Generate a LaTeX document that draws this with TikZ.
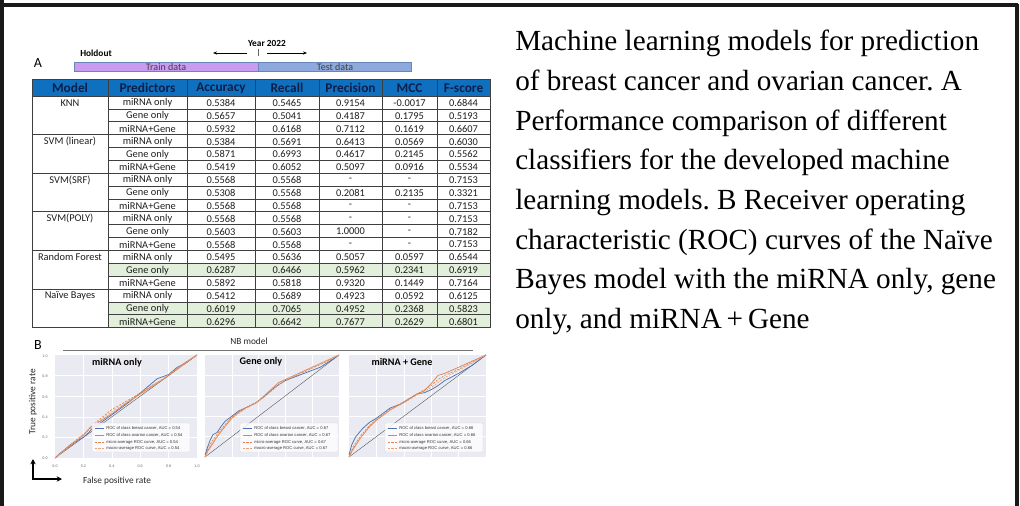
\documentclass[tikz,border=0pt]{standalone}
\usepackage{fontspec}
\setmainfont{Liberation Serif}
\newfontfamily\calib{Carlito}
\newfontfamily\arialf{Liberation Sans}
\usetikzlibrary{arrows.meta}
\frenchspacing
\definecolor{hdrblue}{HTML}{1070C0}
\definecolor{hdrtext}{HTML}{0C1F4A}
\definecolor{rowgreen}{HTML}{E2EFDA}
\definecolor{trainpurple}{HTML}{C99CF2}
\definecolor{testblue}{HTML}{8EA9DB}
\definecolor{barborder}{HTML}{6A86B8}
\definecolor{gridgray}{HTML}{3F3F3F}
\definecolor{rocbg}{HTML}{EAEAF2}
\definecolor{rocblue}{HTML}{4C72B0}
\definecolor{rocorange}{HTML}{DD8452}
\definecolor{rocpeach}{HTML}{E9A27C}
\definecolor{celltext}{HTML}{1E1E1E}
\tikzset{
  frameline/.style={line width=2.3pt, draw=black!90},
  capline/.style={anchor=base west, inner sep=0pt, font=\fontsize{21.9}{29}\selectfont},
  thead/.style={font=\calib\bfseries\fontsize{10}{11}\selectfont, text=hdrtext, inner sep=0pt},
  tcell/.style={font=\calib\fontsize{7.8}{8.5}\selectfont, text=celltext, inner sep=0pt},
  tline/.style={draw=gridgray, line width=0.5pt},
  smalllab/.style={font=\calib\fontsize{7}{8}\selectfont, text=black!85, inner sep=0pt},
  boldlab/.style={font=\calib\bfseries\fontsize{7}{8}\selectfont, inner sep=0pt},
  panellab/.style={font=\calib\fontsize{10.5}{12}\selectfont, inner sep=0pt},
  bartext/.style={font=\calib\fontsize{7.5}{8}\selectfont, text=black!75, inner sep=0pt},
  ticklab/.style={font=\arialf\fontsize{2.8}{3}\selectfont, text=black!60, inner sep=0pt},
  legtext/.style={font=\arialf\fontsize{3.1}{3.2}\selectfont, text=black!80, inner sep=0pt, anchor=west},
  plottitle/.style={font=\calib\bfseries\fontsize{7.6}{8}\selectfont, inner sep=0pt},
  rocsolid/.style={line width=0.55pt},
  rocdash/.style={line width=0.45pt, dash pattern=on 1.6pt off 1pt},
  gridw/.style={draw=white, line width=0.45pt},
  diagline/.style={draw=black!65, line width=0.3pt},
  legbox/.style={fill=white, fill opacity=0.8, draw=black!15, line width=0.3pt, rounded corners=0.6pt},
  bigarrow/.style={line width=1.1pt, -{Stealth[length=4pt,width=4pt]}},
  yeararrow/.style={line width=0.5pt, -{Stealth[length=3pt,width=2.4pt]}}
}
\begin{document}
\begin{tikzpicture}[x=0.75pt,y=-0.75pt]
\useasboundingbox (0,0) rectangle (1020,506);
% frame
\draw[frameline] (2,0) -- (2,506);
\draw[frameline] (0,5) -- (1018,5);
\draw[frameline] (1017,4) -- (1017,506);

% caption
\node[capline] (cap1) at (515,51) {Machine learning models for prediction};
\node[capline] (cap2) at (515,90.6) {of breast cancer and ovarian cancer. A};
\node[capline] (cap3) at (515,130.2) {Performance comparison of different};
\node[capline] (cap4) at (515,169.8) {classifiers for the developed machine};
\node[capline] (cap5) at (515,209.4) {learning models. B Receiver operating};
\node[capline] (cap6) at (515,249) {characteristic (ROC) curves of the Naïve};
\node[capline] (cap7) at (515,288.6) {Bayes model with the miRNA only, gene};
\node[capline] (cap8) at (515,328.2) {only, and miRNA\,+\,Gene};

% panel A top
\node[panellab] (labA) at (38,63) {A};
\node[boldlab] (holdout) at (96,53) {Holdout};
\node[boldlab] (year) at (267,43) {Year 2022};
\coordinate (ylA) at (247,53); \coordinate (ylB) at (213,53);
\coordinate (yrA) at (267,53); \coordinate (yrB) at (307,53);
\coordinate (ytA) at (258,49); \coordinate (ytB) at (258,56);
\draw[yeararrow] (ylA) -- (ylB);
\draw[yeararrow] (yrA) -- (yrB);
\draw[line width=0.4pt, black!60] (ytA) -- (ytB);
\draw[fill=trainpurple, draw=barborder, line width=0.5pt] (74,62) rectangle (258,71);
\draw[fill=testblue, draw=barborder, line width=0.5pt] (258,62) rectangle (411,71);
\node[bartext] (train) at (166,67) {Train data};
\node[bartext] (test) at (335,67) {Test data};

% table
\fill[hdrblue] (32,79) rectangle (490,96);
\foreach \k in {13,16,17} {
  \fill[rowgreen] (108,{96+12.87*\k}) rectangle (490,{96+12.87*(\k+1)});
}
\node[thead] (h1) at (70,88) {Model};
\node[thead] (h2) at (147.5,88) {Predictors};
\node[thead] (h3) at (221,88) {Accuracy};
\node[thead] (h4) at (287,88) {Recall};
\node[thead] (h5) at (350.5,88) {Precision};
\node[thead] (h6) at (409.5,88) {MCC};
\node[thead] (h7) at (463.5,88) {F-score};
% grid
\draw[tline] (32,79) -- (490,79);
\draw[tline] (32,96) -- (490,96);
\foreach \k in {1,...,17} {
  \pgfmathtruncatemacro{\m}{mod(\k,3)}
  \ifnum\m=0
    \draw[tline] (32,{96+12.87*\k}) -- (490,{96+12.87*\k});
  \else
    \draw[tline] (108,{96+12.87*\k}) -- (490,{96+12.87*\k});
  \fi
}
\draw[tline] (32,327.66) -- (490,327.66);
\foreach \cx in {32,108,187,255,319,382,437,490} {
  \draw[tline] (\cx,79) -- (\cx,327.66);
}
% model names
\foreach \g/\name in {0/KNN,1/SVM (linear),2/SVM(SRF),3/SVM(POLY),4/Random Forest,5/Naïve Bayes} {
  \node[tcell] (m\g) at (70,{96+12.87*(3*\g+0.5)+0.5}) {\name};
}
% data
\foreach \r/\p/\va/\vb/\vc/\vd/\ve in {
 0/miRNA only/0.5384/0.5465/0.9154/-0.0017/0.6844,
 1/Gene only/0.5657/0.5041/0.4187/0.1795/0.5193,
 2/miRNA+Gene/0.5932/0.6168/0.7112/0.1619/0.6607,
 3/miRNA only/0.5384/0.5691/0.6413/0.0569/0.6030,
 4/Gene only/0.5871/0.6993/0.4617/0.2145/0.5562,
 5/miRNA+Gene/0.5419/0.6052/0.5097/0.0916/0.5534,
 6/miRNA only/0.5568/0.5568/-/-/0.7153,
 7/Gene only/0.5308/0.5568/0.2081/0.2135/0.3321,
 8/miRNA+Gene/0.5568/0.5568/-/-/0.7153,
 9/miRNA only/0.5568/0.5568/-/-/0.7153,
 10/Gene only/0.5603/0.5603/1.0000/-/0.7182,
 11/miRNA+Gene/0.5568/0.5568/-/-/0.7153,
 12/miRNA only/0.5495/0.5636/0.5057/0.0597/0.6544,
 13/Gene only/0.6287/0.6466/0.5962/0.2341/0.6919,
 14/miRNA+Gene/0.5892/0.5818/0.9320/0.1449/0.7164,
 15/miRNA only/0.5412/0.5689/0.4923/0.0592/0.6125,
 16/Gene only/0.6019/0.7065/0.4952/0.2368/0.5823,
 17/miRNA+Gene/0.6296/0.6642/0.7677/0.2629/0.6801} {
  \pgfmathsetmacro{\yy}{96+12.87*(\r+0.5)+0.5}
  \node[tcell] (c\r-1) at (147.5,\yy) {\p};
  \node[tcell] (c\r-2) at (221,\yy) {\va};
  \node[tcell] (c\r-3) at (287,\yy) {\vb};
  \node[tcell] (c\r-4) at (350.5,\yy) {\vc};
  \node[tcell] (c\r-5) at (409.5,\yy) {\vd};
  \node[tcell] (c\r-6) at (463.5,\yy) {\ve};
}

% panel B
\node[panellab] (labB) at (38,345) {B};
\node[smalllab] (nbmodel) at (249,341) {NB model};
\coordinate (nbl) at (63,350); \coordinate (nbr) at (473,350);
\draw[line width=0.5pt, black!55] (nbl) -- (nbr);

% plot 1
\begin{scope}[shift={(55,458)}, x={(106.5pt,0pt)}, y={(0pt,77.25pt)}]
  \fill[rocbg] (0,0) rectangle (1,1);
  \foreach \g in {0.2,0.4,0.6,0.8} {\draw[gridw] (\g,0) -- (\g,1); \draw[gridw] (0,\g) -- (1,\g);}
  \draw[diagline] (0,0) -- (1,1);
  \draw[rocsolid, rocblue] plot coordinates {(0,0) (0.04,0.05) (0.1,0.11) (0.16,0.17) (0.2,0.2) (0.24,0.25) (0.27,0.3) (0.32,0.34) (0.4,0.42) (0.5,0.52) (0.6,0.63) (0.66,0.7) (0.72,0.77) (0.8,0.81) (0.86,0.88) (0.92,0.92) (1,1)};
  \draw[rocsolid, rocorange] plot coordinates {(0,0) (0.05,0.06) (0.1,0.12) (0.17,0.19) (0.2,0.22) (0.25,0.3) (0.3,0.34) (0.4,0.43) (0.5,0.53) (0.6,0.62) (0.7,0.71) (0.78,0.78) (0.85,0.86) (0.92,0.93) (1,1)};
  \draw[rocdash, rocorange] plot coordinates {(0,0) (0.1,0.12) (0.2,0.23) (0.3,0.36) (0.4,0.47) (0.5,0.55) (0.6,0.63) (0.7,0.72) (0.8,0.8) (0.9,0.9) (1,1)};
  \draw[rocdash, rocpeach] plot coordinates {(0,0) (0.1,0.11) (0.2,0.22) (0.3,0.35) (0.4,0.45) (0.5,0.54) (0.6,0.62) (0.7,0.71) (0.8,0.81) (0.9,0.9) (1,1)};
\end{scope}
% plot 2
\begin{scope}[shift={(205,457)}, x={(100.5pt,0pt)}, y={(0pt,76.5pt)}]
  \fill[rocbg] (0,0) rectangle (1,1);
  \foreach \g in {0.2,0.4,0.6,0.8} {\draw[gridw] (\g,0) -- (\g,1); \draw[gridw] (0,\g) -- (1,\g);}
  \draw[diagline] (0,0) -- (1,1);
  \draw[rocsolid, rocblue] plot coordinates {(0,0.02) (0.02,0.1) (0.04,0.17) (0.06,0.22) (0.09,0.24) (0.12,0.3) (0.15,0.35) (0.2,0.4) (0.25,0.45) (0.3,0.48) (0.38,0.53) (0.45,0.6) (0.5,0.66) (0.55,0.71) (0.6,0.75) (0.7,0.8) (0.8,0.85) (0.86,0.88) (0.92,0.93) (1,1)};
  \draw[rocsolid, rocorange] plot coordinates {(0,0) (0.02,0.06) (0.05,0.12) (0.08,0.18) (0.12,0.25) (0.15,0.3) (0.2,0.38) (0.25,0.44) (0.3,0.48) (0.38,0.53) (0.45,0.61) (0.5,0.67) (0.55,0.73) (0.6,0.76) (0.7,0.82) (0.8,0.88) (0.9,0.94) (1,1)};
  \draw[rocdash, rocorange] plot coordinates {(0,0) (0.02,0.08) (0.05,0.15) (0.1,0.24) (0.15,0.32) (0.2,0.39) (0.3,0.48) (0.4,0.55) (0.5,0.66) (0.6,0.75) (0.7,0.81) (0.8,0.87) (0.9,0.93) (1,1)};
  \draw[rocdash, rocpeach] plot coordinates {(0,0) (0.03,0.07) (0.06,0.13) (0.1,0.22) (0.15,0.31) (0.2,0.38) (0.3,0.47) (0.4,0.55) (0.5,0.65) (0.6,0.76) (0.7,0.82) (0.8,0.88) (0.9,0.94) (1,1)};
\end{scope}
% plot 3
\begin{scope}[shift={(349,457)}, x={(102.75pt,0pt)}, y={(0pt,76.5pt)}]
  \fill[rocbg] (0,0) rectangle (1,1);
  \foreach \g in {0.2,0.4,0.6,0.8} {\draw[gridw] (\g,0) -- (\g,1); \draw[gridw] (0,\g) -- (1,\g);}
  \draw[diagline] (0,0) -- (1,1);
  \draw[rocsolid, rocblue] plot coordinates {(0,0.02) (0.02,0.12) (0.05,0.2) (0.1,0.28) (0.15,0.34) (0.2,0.38) (0.25,0.43) (0.3,0.48) (0.38,0.52) (0.45,0.58) (0.5,0.62) (0.55,0.63) (0.6,0.66) (0.65,0.7) (0.7,0.75) (0.8,0.82) (0.9,0.9) (1,1)};
  \draw[rocsolid, rocorange] plot coordinates {(0,0) (0.03,0.08) (0.08,0.18) (0.15,0.3) (0.2,0.36) (0.3,0.46) (0.4,0.54) (0.5,0.62) (0.55,0.65) (0.6,0.72) (0.65,0.8) (0.7,0.82) (0.8,0.88) (0.9,0.94) (1,1)};
  \draw[rocdash, rocorange] plot coordinates {(0,0) (0.03,0.1) (0.08,0.2) (0.15,0.31) (0.2,0.37) (0.3,0.47) (0.4,0.54) (0.5,0.62) (0.6,0.7) (0.65,0.76) (0.7,0.8) (0.8,0.86) (0.9,0.93) (1,1)};
  \draw[rocdash, rocpeach] plot coordinates {(0,0) (0.04,0.09) (0.1,0.22) (0.2,0.36) (0.3,0.46) (0.4,0.53) (0.5,0.61) (0.6,0.68) (0.65,0.73) (0.7,0.78) (0.8,0.85) (0.9,0.92) (1,1)};
\end{scope}

% plot titles
\node[plottitle] (t1) at (117,363) {miRNA only};
\node[plottitle] (t2) at (261,362) {Gene only};
\node[plottitle] (t3) at (402,362) {miRNA + Gene};

% legends
\foreach \p/\lx/\auc in {1/92/0.54, 2/240/0.67, 3/385/0.66} {
  \draw[legbox] (\lx,423) rectangle ({\lx+98},452);
  \draw[rocsolid, rocblue] ({\lx+3},428) -- ({\lx+12},428);
  \draw[rocsolid, rocorange] ({\lx+3},435) -- ({\lx+12},435);
  \draw[rocdash, rocorange] ({\lx+3},442) -- ({\lx+12},442);
  \draw[rocdash, rocpeach] ({\lx+3},448.5) -- ({\lx+12},448.5);
  \node[legtext] (lg\p a) at ({\lx+14},428) {ROC of class breast cancer, AUC = \auc};
  \node[legtext] (lg\p b) at ({\lx+14},435) {ROC of class ovarian cancer, AUC = \auc};
  \node[legtext] (lg\p c) at ({\lx+14},442) {micro-average ROC curve, AUC = \auc};
  \node[legtext] (lg\p d) at ({\lx+14},448.5) {macro-average ROC curve, AUC = \auc};
}

% ticks
\foreach \v [count=\i from 0] in {0.0,0.2,0.4,0.6,0.8,1.0} {
  \node[ticklab] (yt\i) at (45,{458-20.4*\i}) {\v};
  \node[ticklab] (xt\i) at ({55+28.4*\i},466) {\v};
}

% axis labels
\node[smalllab, rotate=90] (ylab) at (33,402) {True positive rate};
\node[smalllab] (xlab) at (117,481) {False positive rate};
\coordinate (lcorner) at (33,479);
\coordinate (ltop) at (33,459);
\coordinate (lright) at (62,479);
\draw[bigarrow] (lcorner) -- (ltop);
\draw[bigarrow] ([xshift=-0.55pt]lcorner) -- (lright);
\end{tikzpicture}
\end{document}
